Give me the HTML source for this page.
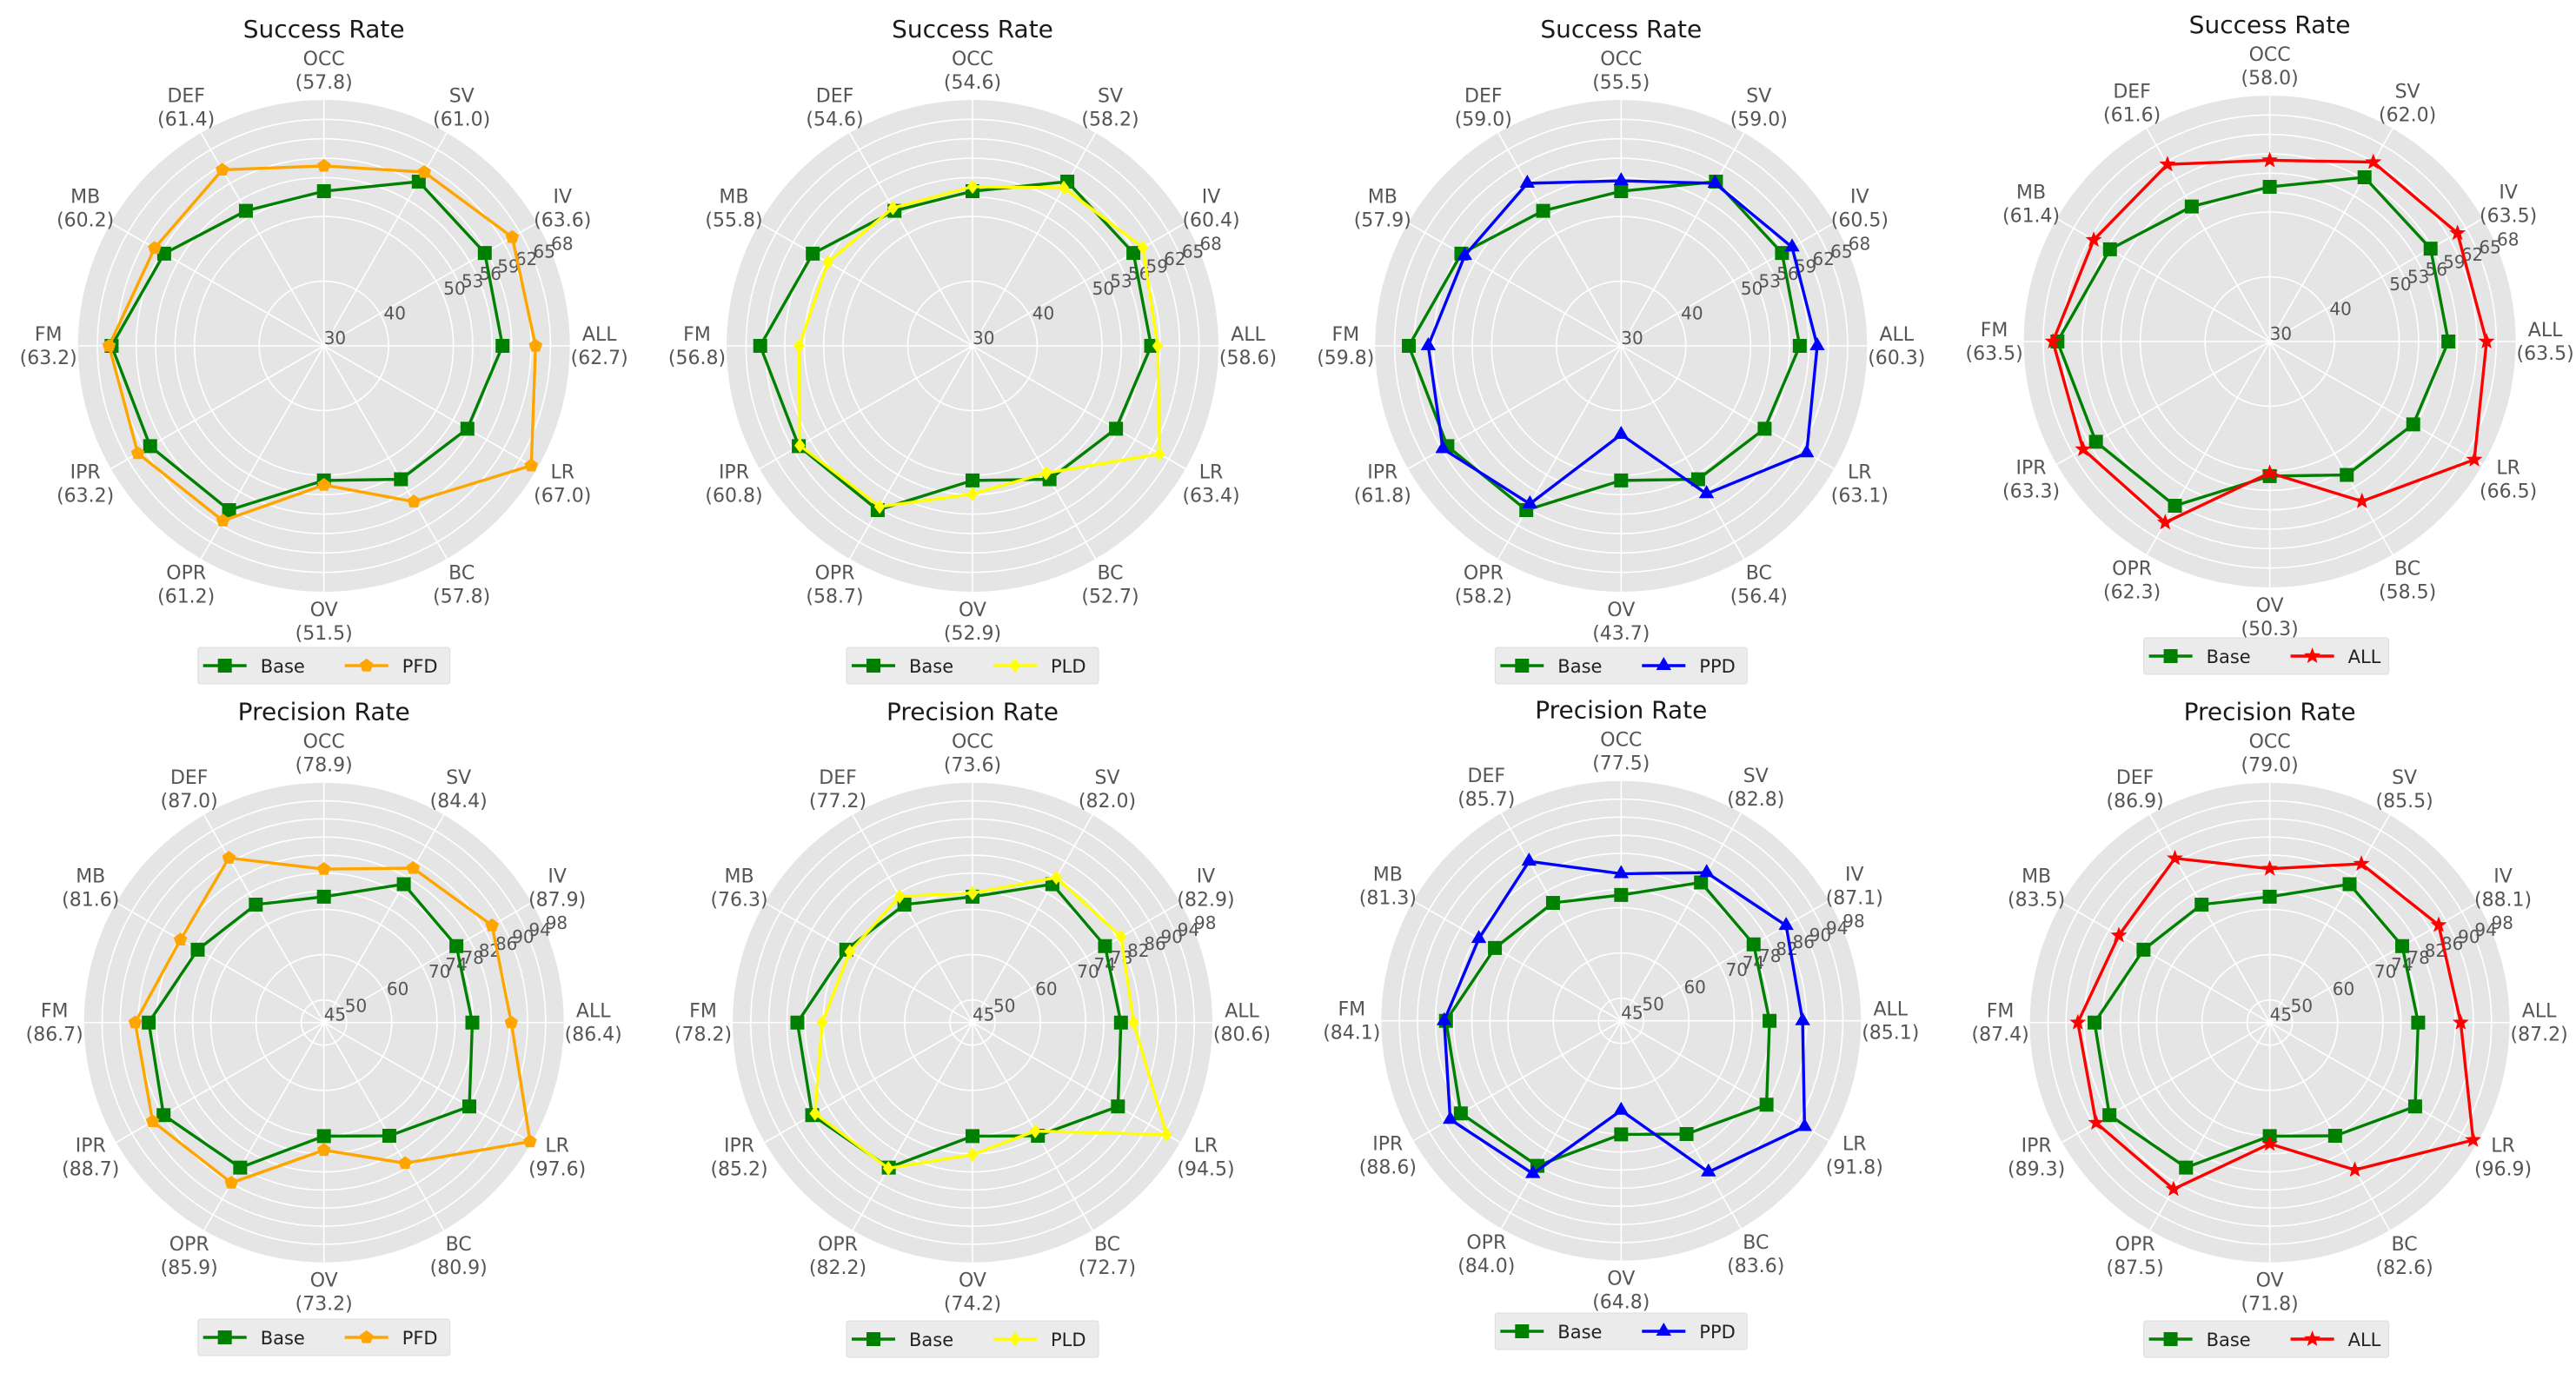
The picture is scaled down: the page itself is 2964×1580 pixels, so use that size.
<!DOCTYPE html>
<html><head><meta charset="utf-8">
<style>
html,body{margin:0;padding:0;background:#fff;}
svg{display:block;}
text{font-family:"DejaVu Sans","Liberation Sans",sans-serif;}
</style></head>
<body>
<svg id="fig" xmlns="http://www.w3.org/2000/svg" width="2964" height="1580" viewBox="0 0 2964 1580"></svg>
<script>
// ---- data ----
const categories = ['OCC','SV','IV','ALL','LR','BC','OV','OPR','IPR','FM','MB','DEF'];
const successTicks = [30,40,50,53,56,59,62,65,68];
const precisionTicks = [45,50,60,70,74,78,82,86,90,94,98];
const baseSuccess = [53.9,59.3,58.7,57.6,55.6,53.8,50.8,59.3,61.0,62.8,58.5,54.1];
const baseP = [72.8,80.3,78.8,77.8,82.1,73.9,70.1,82.0,85.9,83.7,77.2,75.1];
const pfdSuccess = [57.8,61.0,63.6,62.7,67.0,57.8,51.5,61.2,63.2,63.2,60.2,61.4];
const pldSuccess = [54.6,58.2,60.4,58.6,63.4,52.7,52.9,58.7,60.8,56.8,55.8,54.6];
const ppdSuccess = [55.5,59.0,60.5,60.3,63.1,56.4,43.7,58.2,61.8,59.8,57.9,59.0];
const allSuccess = [58.0,62.0,63.5,63.5,66.5,58.5,50.3,62.3,63.3,63.5,61.4,61.6];
const pfdPrecision = [78.9,84.4,87.9,86.4,97.6,80.9,73.2,85.9,88.7,86.7,81.6,87.0];
const pldPrecision = [73.6,82.0,82.9,80.6,94.5,72.7,74.2,82.2,85.2,78.2,76.3,77.2];
const ppdPrecision = [77.5,82.8,87.1,85.1,91.8,83.6,64.8,84.0,88.6,84.1,81.3,85.7];
const allPrecision = [79.0,85.5,88.1,87.2,96.9,82.6,71.8,87.5,89.3,87.4,83.5,86.9];
const methodNames = ['PFD','PLD','PPD','ALL'];

const NS='http://www.w3.org/2000/svg';
const svg=document.getElementById('fig');
function mk(tag,attrs,parent){const e=document.createElementNS(NS,tag);for(const k in attrs)e.setAttribute(k,attrs[k]);(parent||svg).appendChild(e);return e;}

const colX=[372.7,1119,1865.3,2611.6];
const methodColors=['#FFA500','#FFFF00','#0000FF','#FF0000'];
const methodMarkers=['pent','diamond','tri','star'];
const rows=[
  {title:'Success Rate',ticks:successTicks,base:baseSuccess,series:[pfdSuccess,pldSuccess,ppdSuccess,allSuccess],cy:398,R:283,dy:[0,0,0,-5],legTop:[745,745,745,734],key:'success'},
  {title:'Precision Rate',ticks:precisionTicks,base:baseP,series:[pfdPrecision,pldPrecision,ppdPrecision,allPrecision],cy:1176.7,R:276,dy:[0,0,-2,0],legTop:[1518,1520,1511,1520],key:'precision'}
];

function markerPath(type,x,y){
  if(type==='square'){const s=7.5;return `M${x-s},${y-s}H${x+s}V${y+s}H${x-s}Z`;}
  if(type==='pent'){let d='';for(let i=0;i<5;i++){const a=-Math.PI/2+i*2*Math.PI/5;d+=(i?'L':'M')+(x+7.5*Math.cos(a))+','+(y+7.5*Math.sin(a));}return d+'Z';}
  if(type==='diamond'){const s=7.5;return `M${x},${y-s}L${x+s*0.75},${y}L${x},${y+s}L${x-s*0.75},${y}Z`;}
  if(type==='tri'){const s=9;return `M${x},${y-s}L${x+s*0.87},${y+s*0.5}L${x-s*0.87},${y+s*0.5}Z`;}
  if(type==='star'){let d='';for(let i=0;i<10;i++){const a=-Math.PI/2+i*Math.PI/5;const rr=i%2?3.6:8.5;d+=(i?'L':'M')+(x+rr*Math.cos(a))+','+(y+rr*Math.sin(a));}return d+'Z';}
}

function drawSeries(g,vals,color,marker,rad,cx,cy,name){
  const pts=vals.map((v,i)=>{const a=(90-30*i)*Math.PI/180;const r=rad(v);return [cx+r*Math.cos(a),cy-r*Math.sin(a)];});
  const line=mk('polygon',{points:pts.map(p=>p.join(',')).join(' '),fill:'none',stroke:color,'stroke-width':3.4,'stroke-linejoin':'miter'},g);
  
  
  pts.forEach((p,i)=>{
    const m=mk('path',{d:markerPath(marker,p[0],p[1]),fill:color,stroke:color,'stroke-width':1},g);
    
    
  });
}

rows.forEach((row,ri)=>{
  const tMin=row.ticks[0],tMax=row.ticks[row.ticks.length-1];
  colX.forEach((cx,ci)=>{
    const cy=row.cy+row.dy[ci];
    const R=row.R;
    const rad=v=>(v-tMin)/(tMax-tMin)*R;
    const g=mk('g',{});
    
    
    // title
    const t=mk('text',{x:cx,y:cy-R-82+10,'text-anchor':'middle','font-size':28,fill:'#1a1a1a'},g);
    t.textContent=row.title;
    
    
    // disk
    const disk=mk('circle',{cx:cx,cy:cy,r:R,fill:'#e5e5e5'},g);
    
    
    // rings
    row.ticks.forEach(tv=>{
      const r=rad(tv);
      if(r>0.5&&r<R-0.5){
        const c=mk('circle',{cx:cx,cy:cy,r:r,fill:'none',stroke:'#ffffff','stroke-width':1.6},g);
        
        
      }
    });
    // spokes
    categories.forEach((c,i)=>{
      const a=(90-30*i)*Math.PI/180;
      const l=mk('line',{x1:cx,y1:cy,x2:cx+R*Math.cos(a),y2:cy-R*Math.sin(a),stroke:'#ffffff','stroke-width':1.6},g);
      
      
    });
    // tick labels
    const ta=22.5*Math.PI/180;
    row.ticks.forEach(tv=>{
      const r=rad(tv);
      const tx=mk('text',{x:cx+r*Math.cos(ta),y:cy-r*Math.sin(ta)-2,'font-size':20,fill:'#555'},g);
      tx.textContent=String(tv);
      
      
    });
    // series
    drawSeries(g,row.base,'#008000','square',rad,cx,cy,'base');
    drawSeries(g,row.series[ci],methodColors[ci],methodMarkers[ci],rad,cx,cy,methodNames[ci].toLowerCase());
    // category labels
    categories.forEach((c,i)=>{
      const a=(90-30*i)*Math.PI/180;
      const lr=R+34;
      const lx=cx+lr*Math.cos(a),ly=cy-lr*Math.sin(a);
      const tx=mk('text',{x:lx,y:ly-6,'text-anchor':'middle','font-size':22,fill:'#555'},g);
      tx.textContent=c;
      
      
      const tv=mk('text',{x:lx,y:ly+21,'text-anchor':'middle','font-size':22,fill:'#555'},g);
      tv.textContent='('+row.series[ci][i].toFixed(1)+')';
      
      
    });
    // legend
    const name=methodNames[ci];
    const w=name==='ALL'?282:290;
    const lx0=cx-145,ly0=row.legTop[ci];
    const lg=mk('g',{},g);
    
    
    mk('rect',{x:lx0,y:ly0,width:w,height:42,fill:'#ebebeb',stroke:'#dddddd','stroke-width':1,rx:3},lg);
    const entries=[['Base','#008000','square',0],[name,methodColors[ci],methodMarkers[ci],163]];
    entries.forEach(e=>{
      const ex=lx0+e[3];
      const mid=ly0+21;
      mk('line',{x1:ex+6,y1:mid,x2:ex+56,y2:mid,stroke:e[1],'stroke-width':3.4},lg);
      mk('path',{d:markerPath(e[2],ex+31,mid),fill:e[1],stroke:e[1]},lg);
      const tt=mk('text',{x:ex+72,y:mid+8,'font-size':21,fill:'#222'},lg);
      tt.textContent=e[0];
      
      
    });
  });
});
</script>
</body></html>
